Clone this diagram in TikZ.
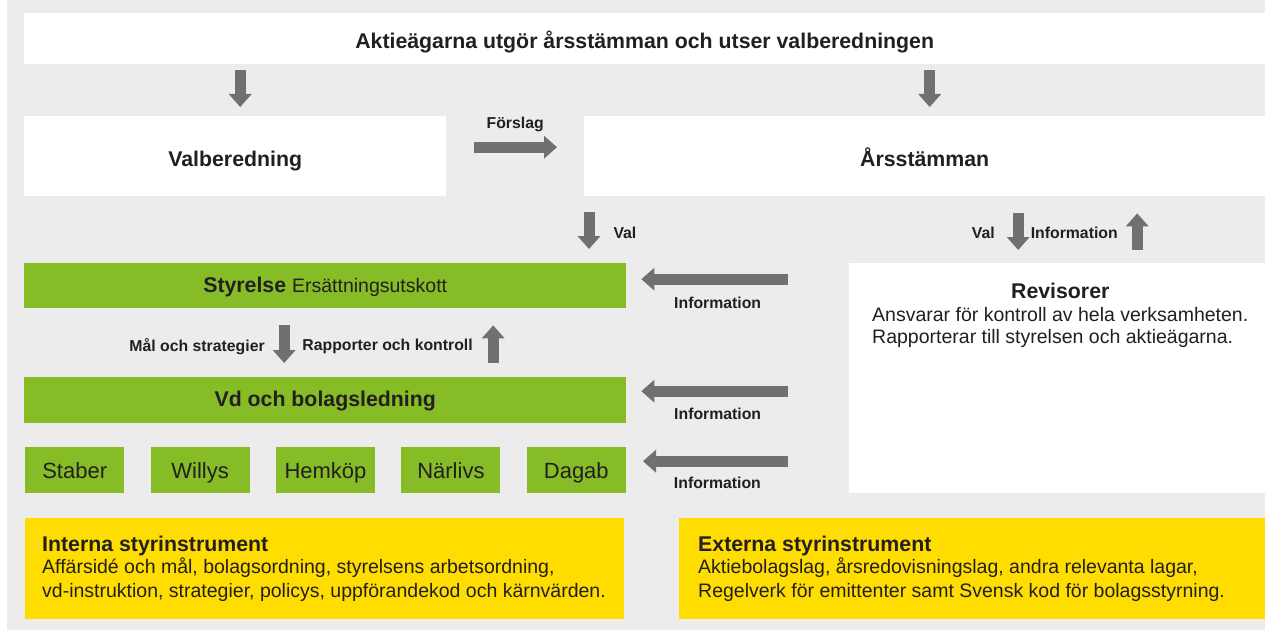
\documentclass[tikz,border=0pt]{standalone}
\usepackage{fontspec}
\setmainfont{Liberation Sans}
\usetikzlibrary{arrows.meta,positioning}
\definecolor{bggray}{RGB}{236,236,236}
\definecolor{grn}{RGB}{134,188,37}
\definecolor{ylw}{RGB}{255,221,0}
\definecolor{arrowgray}{RGB}{112,112,112}
\definecolor{txt}{RGB}{35,31,32}

\begin{document}
\begin{tikzpicture}[x=1pt,y=-1pt,
  every node/.style={text=txt,inner sep=0pt},
  box/.style={anchor=north west,inner sep=0pt},
  whitebox/.style={box,fill=white,text height=20pt,text depth=0pt},
  greenbox/.style={box,fill=grn,text height=15pt,text depth=2pt},
  yellowbox/.style={box,fill=ylw},
  unitbox/.style={greenbox,minimum width=99pt,minimum height=46pt,text height=16pt,text depth=0pt,
    font=\fontsize{22}{26}\selectfont},
  head/.style={font=\fontsize{21.3}{25}\selectfont\bfseries},
  lbl/.style={font=\fontsize{15.8}{18}\selectfont\bfseries},
  body/.style={font=\fontsize{19.5}{23}\selectfont},
  fat/.style={draw=arrowgray,line width=11pt,-{Triangle[width=23pt,length=13pt,line width=0pt]}}]
\useasboundingbox (0,0) rectangle (1265,631);
\fill[white] (0,0) rectangle (1265,631);
\fill[bggray] (7,0) rectangle (1265,630);

% top row
\node[whitebox,minimum width=1241pt,minimum height=51pt,head] (owners) at (24,13)
  {Aktieägarna utgör årsstämman och utser valberedningen};
\node[whitebox,minimum width=422pt,minimum height=80pt,head] (nomcom) at (24,116) {Valberedning};
\node[whitebox,minimum width=681pt,minimum height=80pt,head] (agm) at (584,116) {Årsstämman};

% board, management, units
\node[greenbox,minimum width=602pt,minimum height=45pt,head] (board) at (24,263)
  {Styrelse {\mdseries\fontsize{19.5}{23}\selectfont Ersättningsutskott}};
\node[greenbox,minimum width=602pt,minimum height=46pt,head] (ceo) at (24,377) {Vd och bolagsledning};
\node[unitbox] (staber) at (25,447) {Staber};
\node[unitbox,right=26pt of staber] (willys) {Willys};
\node[unitbox,right=26pt of willys] (hemkop) {Hemköp};
\node[unitbox,right=26pt of hemkop] (narlivs) {Närlivs};
\node[unitbox,right=26pt of narlivs] (dagab) {Dagab};

% auditors
\node[whitebox,minimum width=416pt,minimum height=230pt] (audit) at (849,263) {};
\node[body,align=left,anchor=north west,font=\fontsize{19.5}{22}\selectfont] (auditbody) at (872,307)
  {Ansvarar för kontroll av hela verksamheten.\\Rapporterar till styrelsen och aktieägarna.};
\node[above=8pt of auditbody,head] (audithead) {Revisorer};

% governance instruments
\node[yellowbox,minimum width=599pt,minimum height=101pt] (internal) at (25,518) {};
\node[body,align=left,anchor=north west,font=\fontsize{19.5}{24}\selectfont] (internalbody) at (42,558)
  {Affärsidé och mål, bolagsordning, styrelsens arbetsordning,\\vd-instruktion, strategier, policys, uppförandekod och kärnvärden.};
\node[above right=2pt and 0pt of internalbody.north west,head] (internalhead) {Interna styrinstrument};
\node[yellowbox,minimum width=586pt,minimum height=101pt] (external) at (679,518) {};
\node[body,align=left,anchor=north west,font=\fontsize{19.5}{24}\selectfont] (externalbody) at (698,558)
  {Aktiebolagslag, årsredovisningslag, andra relevanta lagar,\\Regelverk för emittenter samt Svensk kod för bolagsstyrning.};
\node[above right=2pt and 0pt of externalbody.north west,head] (externalhead) {Externa styrinstrument};

% arrows
\coordinate (nomin) at ([xshift=5pt]nomcom.north);
\draw[fat,shorten <=6pt,shorten >=9pt] (owners.south -| nomin) -- (nomin);
\coordinate (agmin) at ([xshift=5pt]agm.north);
\draw[fat,shorten <=6pt,shorten >=9pt] (owners.south -| agmin) -- (agmin);
\coordinate (propin) at ([yshift=9pt]nomcom.east);
\draw[fat,shorten <=28pt,shorten >=27pt] (propin) -- (propin -| agm.west)
  node[midway,yshift=23pt,lbl] (proposal) {Förslag};
\coordinate (valtop) at ([xshift=5pt]agm.south west);
\draw[fat,shorten <=16pt,shorten >=14pt] (valtop) -- (valtop |- board.north)
  node[midway,right=19pt,yshift=-3pt,lbl] (electboard) {Val};
\coordinate (auditin) at ([xshift=-39pt]audit.north);
\draw[fat,shorten <=17pt,shorten >=13pt] (auditin |- agm.south) -- (auditin)
  node[midway,left=18pt,yshift=-3pt,lbl] (electaudit) {Val};
\coordinate (auditout) at ([xshift=80pt]audit.north);
\draw[fat,shorten <=13pt,shorten >=17pt] (auditout) -- (auditout |- agm.south)
  node[midway,left=14pt,yshift=-3pt,lbl] (auditinfo) {Information};
\coordinate (goals) at ([xshift=-41pt]board.south);
\draw[fat,shorten <=17pt,shorten >=14pt] (goals) -- (goals |- ceo.north)
  node[midway,left=14pt,yshift=-4pt,lbl] (goalslbl) {Mål och strategier};
\coordinate (reports) at ([xshift=168pt]ceo.north);
\draw[fat,shorten <=14pt,shorten >=17pt] (reports) -- (reports |- board.south)
  node[midway,left=15pt,yshift=-4pt,lbl] (reportslbl) {Rapporter och kontroll};
\coordinate (boardin) at ([yshift=6.5pt]board.east);
\draw[fat,shorten <=61pt,shorten >=15pt] (boardin -| audit.west) -- (boardin)
  node[pos=0.59,below=12pt,lbl] (info1) {Information};
\coordinate (ceoin) at ([yshift=9pt]ceo.east);
\draw[fat,shorten <=61pt,shorten >=15pt] (ceoin -| audit.west) -- (ceoin)
  node[pos=0.59,below=11pt,lbl] (info2) {Information};
\coordinate (unitin) at ([yshift=9pt]dagab.east);
\draw[fat,shorten <=61pt,shorten >=17pt] (unitin -| audit.west) -- (unitin)
  node[pos=0.59,below=10pt,lbl] (info3) {Information};
\end{tikzpicture}
\end{document}
